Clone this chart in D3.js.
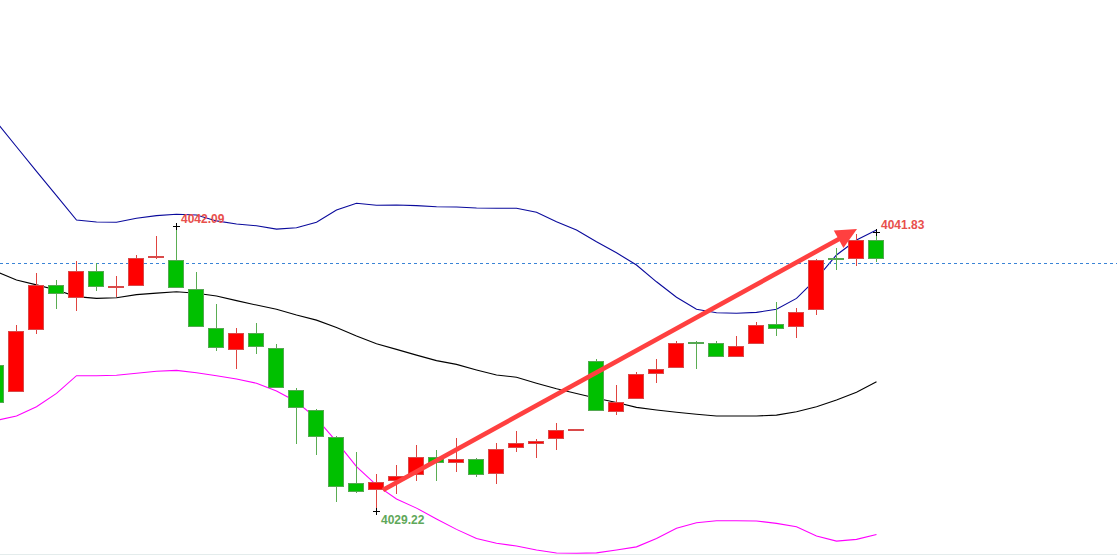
<!DOCTYPE html>
<html>
<head>
<meta charset="utf-8">
<script src="https://cdn.jsdelivr.net/npm/d3@7"></script>
<style>
    html, body { margin: 0; padding: 0; background: #ffffff; }
    #chart { width: 1117px; height: 559px; }
</style>
</head>
<body>
<div id="chart"></div>
<script>
// candle prices, one entry per bar (left to right)
const opens = [4035.81, 4034.61, 4037.38, 4039.43, 4038.85, 4040.06, 4039.36, 4039.39, 4040.66, 4040.55,
    4039.24, 4037.47, 4036.49, 4037.24, 4036.57, 4034.67, 4033.77, 4032.55, 4030.47, 4030.15,
    4030.56, 4030.83, 4031.67, 4031.37, 4031.55, 4030.87, 4032.05, 4032.26, 4032.47, 4032.86,
    4035.98, 4033.68, 4034.26, 4035.39, 4035.66, 4036.83, 4036.79, 4036.16, 4036.75, 4037.65,
    4037.51, 4038.30, 4040.65, 4040.59, 4041.44];
const highs = [4036.00, 4037.62, 4039.98, 4039.65, 4040.51, 4040.41, 4039.83, 4040.79, 4041.65, 4042.09,
    4040.03, 4038.57, 4037.50, 4037.71, 4036.76, 4034.76, 4033.82, 4032.60, 4031.88, 4030.89,
    4031.30, 4032.20, 4031.97, 4032.51, 4031.61, 4032.29, 4032.83, 4032.47, 4033.18, 4032.92,
    4036.07, 4034.91, 4035.50, 4036.07, 4036.90, 4036.90, 4036.90, 4037.12, 4037.75, 4038.64,
    4038.39, 4040.59, 4041.11, 4041.72, 4041.83];
const lows = [4033.90, 4034.59, 4037.23, 4038.34, 4038.26, 4039.17, 4038.90, 4039.39, 4040.59, 4039.28,
    4037.51, 4036.46, 4035.64, 4036.32, 4034.76, 4032.26, 4031.76, 4029.64, 4030.04, 4029.22,
    4030.00, 4030.59, 4030.59, 4030.99, 4030.75, 4030.42, 4031.90, 4031.62, 4031.99, 4032.86,
    4033.73, 4033.54, 4034.26, 4034.99, 4035.66, 4035.62, 4036.16, 4036.16, 4036.75, 4037.14,
    4037.02, 4038.06, 4040.09, 4040.27, 4040.45];
const closes = [4034.08, 4037.35, 4039.43, 4039.02, 4040.06, 4039.35, 4039.38, 4040.63, 4040.75, 4039.28,
    4037.51, 4036.57, 4037.24, 4036.64, 4034.76, 4033.86, 4032.57, 4030.29, 4030.09, 4030.51,
    4030.78, 4031.64, 4031.37, 4031.55, 4030.83, 4032.00, 4032.28, 4032.38, 4032.88, 4032.92,
    4033.73, 4034.13, 4035.39, 4035.62, 4036.79, 4036.81, 4036.16, 4036.66, 4037.60, 4037.42,
    4038.19, 4040.54, 4040.63, 4041.47, 4040.61];

// bollinger bands
const upperBand = [4046.79, 4045.67, 4044.56, 4043.46, 4042.36, 4042.27, 4042.26, 4042.44, 4042.56, 4042.62,
    4042.59, 4042.32, 4042.18, 4042.10, 4041.95, 4042.01, 4042.26, 4042.81, 4043.12, 4043.03,
    4043.04, 4043.01, 4042.96, 4042.95, 4042.90, 4042.89, 4042.89, 4042.71, 4042.28, 4041.91,
    4041.38, 4040.88, 4040.33, 4039.57, 4038.87, 4038.33, 4038.17, 4038.15, 4038.19, 4038.33,
    4038.82, 4039.71, 4040.78, 4041.46, 4041.91];
const middleBand = [4040.03, 4039.65, 4039.43, 4039.20, 4038.90, 4038.82, 4038.85, 4038.99, 4039.06, 4039.12,
    4039.05, 4038.93, 4038.72, 4038.52, 4038.33, 4038.07, 4037.84, 4037.51, 4037.12, 4036.77,
    4036.52, 4036.26, 4036.01, 4035.84, 4035.59, 4035.36, 4035.26, 4034.99, 4034.74, 4034.53,
    4034.31, 4034.12, 4033.90, 4033.78, 4033.68, 4033.59, 4033.51, 4033.51, 4033.51, 4033.55,
    4033.70, 4033.93, 4034.23, 4034.58, 4035.06];
const lowerBand = [4033.31, 4033.51, 4033.93, 4034.53, 4035.33, 4035.33, 4035.35, 4035.44, 4035.53, 4035.57,
    4035.46, 4035.33, 4035.18, 4034.99, 4034.64, 4034.15, 4033.40, 4032.35, 4031.22, 4030.39,
    4029.76, 4029.35, 4028.86, 4028.39, 4027.98, 4027.76, 4027.64, 4027.46, 4027.32, 4027.31,
    4027.33, 4027.46, 4027.60, 4027.98, 4028.44, 4028.69, 4028.78, 4028.78, 4028.77, 4028.66,
    4028.51, 4028.09, 4027.86, 4027.94, 4028.16];

// annotations
const priceLine = 4040.41;
const markerBars = [9, 44, 19];
const markerPrices = [4042.09, 4041.83, 4029.22];
const markerSides = ["high", "high", "low"];
const arrowFrom = [19.35, 4030.17]; // [bar index, price]
const arrowTo = [43.05, 4041.95];

class CandleChart {
    constructor(_config) {
        this.config = {
            parentElement: _config.parentElement,
            containerWidth: _config.width,
            containerHeight: _config.height,
        };
        this.initVis();
    }

    initVis() {
        let vis = this;

        vis.svg = d3
            .select(vis.config.parentElement)
            .append("svg")
            .attr("width", vis.config.containerWidth)
            .attr("height", vis.config.containerHeight);

        // bar index -> pixel (first bar sits partly off the left edge)
        vis.xScale = d3.scaleLinear().domain([0, 44]).range([-4, 876]);
        // anchored on the two labelled extremes
        vis.yScale = d3.scaleLinear().domain([4029.22, 4042.09]).range([511, 226]);

        vis.data = opens.map((o, i) => ({
            i: i,
            open: o,
            high: highs[i],
            low: lows[i],
            close: closes[i],
            up: closes[i] >= o,
        }));

        vis.renderVis();
    }

    renderVis() {
        let vis = this;
        const x = vis.xScale;
        const y = vis.yScale;

        // bottom frame
        vis.svg
            .append("line")
            .attr("x1", 0)
            .attr("x2", vis.config.containerWidth)
            .attr("y1", 554.5)
            .attr("y2", 554.5)
            .attr("stroke", "#e4ecec")
            .attr("stroke-width", 1);

        // bands
        const band = (values, color) => {
            vis.svg
                .append("path")
                .datum(values)
                .attr("fill", "none")
                .attr("stroke", color)
                .attr("stroke-width", 1.1)
                .attr("d", d3.line().x((d, i) => x(i) + 0.5).y((d) => y(d)));
        };
        band(upperBand, "#0a0a9c");
        band(middleBand, "#000000");
        band(lowerBand, "#ff00ff");

        // current price line
        vis.svg
            .append("line")
            .attr("x1", 0)
            .attr("x2", vis.config.containerWidth)
            .attr("y1", Math.round(y(priceLine)) + 0.5)
            .attr("y2", Math.round(y(priceLine)) + 0.5)
            .attr("stroke", "#3a84d6")
            .attr("stroke-dasharray", "3,3")
            .attr("stroke-width", 1);

        // candles
        const candles = vis.svg
            .append("g")
            .attr("shape-rendering", "crispEdges")
            .selectAll(".candle")
            .data(vis.data)
            .join("g")
            .attr("class", "candle");

        const bodyTop = (d) => Math.round(y(Math.max(d.open, d.close)));
        const bodyH = (d) => Math.max(2, Math.round(y(Math.min(d.open, d.close))) - bodyTop(d));

        candles
            .append("line")
            .attr("x1", (d) => x(d.i) + 0.5)
            .attr("x2", (d) => x(d.i) + 0.5)
            .attr("y1", (d) => Math.round(y(d.high)))
            .attr("y2", (d) => Math.round(y(d.low)))
            .attr("stroke", (d) => (d.up ? "#e0443f" : "#5aad52"))
            .attr("stroke-width", 1);

        // border rect, then fill inside it (dojis stay a 2px bar)
        candles
            .append("rect")
            .attr("x", (d) => x(d.i) - 8)
            .attr("width", 16)
            .attr("y", bodyTop)
            .attr("height", bodyH)
            .attr("fill", (d) => (d.up ? "#d94a4a" : "#55a852"));

        candles
            .filter((d) => bodyH(d) > 2)
            .append("rect")
            .attr("x", (d) => x(d.i) - 7)
            .attr("width", 14)
            .attr("y", (d) => bodyTop(d) + 1)
            .attr("height", (d) => bodyH(d) - 2)
            .attr("fill", (d) => (d.up ? "#ff0000" : "#00c000"));

        // trend arrow
        const x0 = x(arrowFrom[0]),
            y0 = y(arrowFrom[1]),
            x1 = x(arrowTo[0]),
            y1 = y(arrowTo[1]);
        const len = Math.hypot(x1 - x0, y1 - y0);
        const ux = (x1 - x0) / len,
            uy = (y1 - y0) / len;
        const headLen = 21,
            headHalf = 10;
        const bx = x1 - ux * headLen,
            by = y1 - uy * headLen;
        vis.svg
            .append("line")
            .attr("x1", x0)
            .attr("y1", y0)
            .attr("x2", bx + ux * 2)
            .attr("y2", by + uy * 2)
            .attr("stroke", "#ff4040")
            .attr("stroke-width", 4.6);
        vis.svg
            .append("path")
            .attr(
                "d",
                `M${x1},${y1}L${bx - uy * headHalf},${by + ux * headHalf}L${bx + uy * headHalf},${by - ux * headHalf}Z`
            )
            .attr("fill", "#ff4040");

        // high / low markers
        markerBars.forEach((b, k) => {
            const cx = Math.round(x(b)) + 0.5;
            const cy = Math.round(y(markerPrices[k])) + 0.5;
            vis.svg
                .append("path")
                .attr("d", `M${cx - 3.5},${cy}H${cx + 3.5}M${cx},${cy - 3.5}V${cy + 3.5}`)
                .attr("stroke", "#000000")
                .attr("stroke-width", 1)
                .attr("shape-rendering", "crispEdges");
            const isHigh = markerSides[k] === "high";
            vis.svg
                .append("text")
                .text(markerPrices[k].toFixed(2))
                .attr("x", cx + 4.5)
                .attr("y", isHigh ? cy - 3.5 : cy + 12.5)
                .attr("font-family", "Liberation Sans, Arial, sans-serif")
                .attr("font-size", "12px")
                .attr("font-weight", "bold")
                .attr("fill", isHigh ? "#e8504c" : "#5fa85a");
        });
    }
}

new CandleChart({ parentElement: "#chart", width: 1117, height: 559 });
</script>
</body>
</html>
